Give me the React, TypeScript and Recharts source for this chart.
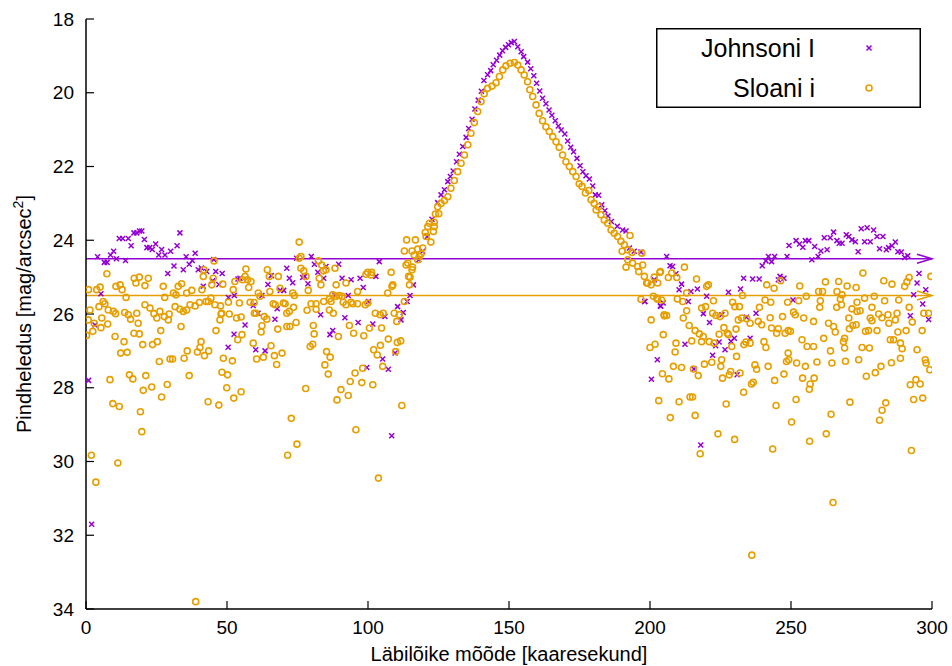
import { ScatterChart, Scatter, XAxis, YAxis, ReferenceLine, Legend } from "recharts"

const purple = "#9400d3"
const orange = "#e69f00"
const font = "'Liberation Sans', Arial, sans-serif"

const xTicks = [0, 50, 100, 150, 200, 250, 300]
const yTicks = [18, 20, 22, 24, 26, 28, 30, 32, 34]

// mean sky levels (arrows)
const johnsonSky = 24.5
const sloanSky = 25.5

// Johnsoni I  [x, mag]
const johnsonLeft = [
  [0.9, 27.8], [2.0, 31.7], [3.2, 26.3], [4.1, 24.45], [5.3, 25.45], [6.5, 24.6], [7.5, 24.6], [8.7, 24.4],
  [9.8, 24.3], [10.8, 24.5], [11.8, 23.95], [13.0, 23.95], [14.0, 24.55], [15.0, 23.95], [16.0, 24.15],
  [17.0, 23.8], [18.0, 23.8], [19.0, 23.75], [19.8, 23.75], [20.7, 23.98], [21.6, 24.2], [22.6, 24.2],
  [23.5, 24.25], [24.7, 24.1], [25.8, 24.4], [26.8, 24.25], [28.0, 24.4], [29.0, 24.9], [30.0, 24.3],
  [31.2, 24.7], [32.3, 24.15], [33.3, 23.8], [34.5, 24.8], [35.5, 24.45], [36.6, 24.65], [37.7, 24.55],
  [38.7, 24.35], [39.8, 24.8], [40.9, 24.75], [41.6, 25.25], [42.8, 24.85], [44.9, 25.1], [45.3, 24.52],
  [46.0, 24.85], [47.1, 25.2], [48.3, 24.9], [50.4, 26.9], [50.5, 25.55], [52.5, 26.55], [52.6, 25.5],
  [53.9, 25.05], [54.6, 25.03], [56.4, 26.3], [59.3, 25.77], [60.2, 26.97], [61.0, 25.98], [62.4, 25.5],
  [63.5, 27.0], [64.5, 25.2], [65.7, 24.96], [67.0, 26.14], [67.8, 25.86], [68.9, 25.36], [70.1, 25.36],
  [71.2, 24.76], [72.1, 25.03], [73.3, 25.15], [74.7, 24.49], [76.8, 25.01], [77.5, 24.98], [78.7, 25.18],
  [79.9, 24.44], [81.0, 24.65], [82.2, 24.87], [83.2, 26.02], [84.3, 25.03], [85.1, 24.71], [86.5, 26.56],
  [87.5, 26.45], [88.3, 25.5], [89.6, 24.65], [90.8, 25.03], [91.8, 26.1], [93.0, 25.5], [94.0, 25.07],
  [96.5, 26.23], [97.2, 25.03], [98.3, 25.28], [99.6, 27.45], [100.2, 25.66], [101.7, 26.27], [102.8, 24.98],
  [104.0, 24.58], [105.2, 27.22], [106.0, 26.07], [107.2, 27.5], [108.4, 29.3], [109.6, 27.06],
]

const johnsonPeak = [
  [110.5, 25.8], [111.7, 26.16], [112.5, 25.96], [113.9, 25.66], [114.9, 25.5], [116.1, 25.21], [118.0, 24.53],
  [119.4, 24.3], [121.0, 23.9], [122.7, 23.43], [124.7, 22.98], [125.9, 22.77], [127.1, 22.63], [128.3, 22.41],
  [129.2, 22.27], [130.2, 22.12], [131.4, 21.87], [132.4, 21.67], [133.6, 21.46], [134.8, 21.21], [135.7, 20.97],
  [136.9, 20.72], [137.9, 20.44], [139.1, 20.2], [140.2, 19.96], [141.1, 19.67], [142.4, 19.51], [143.5, 19.4],
  [144.4, 19.24], [145.6, 19.12], [146.7, 18.98], [147.7, 18.86], [148.8, 18.77], [149.8, 18.7], [150.8, 18.64],
  [151.9, 18.61], [153.1, 18.75], [154.3, 18.89], [155.2, 19.02], [156.6, 19.17], [157.7, 19.35], [158.8, 19.54],
  [159.8, 19.74], [160.9, 19.95], [161.9, 20.15], [163.1, 20.3], [164.2, 20.47], [165.2, 20.61], [166.4, 20.76],
  [167.5, 20.9], [168.5, 21.01], [169.8, 21.12], [170.8, 21.31], [171.9, 21.48], [172.9, 21.6], [174.1, 21.78],
  [175.2, 21.98], [176.2, 22.14], [177.3, 22.25], [178.5, 22.34], [179.7, 22.53], [180.6, 22.77], [181.8, 22.78],
  [182.9, 23.04], [184.0, 23.2], [185.1, 23.34], [186.3, 23.49], [188.4, 23.62], [190.3, 23.72], [191.5, 23.75],
  [192.7, 24.21], [194.4, 24.3], [196.8, 24.32], [198.2, 25.66], [201.5, 25.07], [203.7, 25.78],
]

const johnsonRight = [
  [198.1, 25.66], [200.5, 27.77], [202.6, 27.24], [203.8, 25.79], [204.7, 25.7], [205.9, 24.44], [207.1, 24.69],
  [208.0, 24.71], [209.2, 24.91], [210.3, 25.34], [211.2, 25.19], [212.4, 26.82], [213.6, 25.66], [214.5, 25.39],
  [215.6, 27.49], [216.8, 25.32], [218.0, 29.55], [218.9, 25.99], [220.1, 25.52], [221.1, 26.23], [222.2, 27.12],
  [223.3, 26.86], [224.5, 26.76], [225.5, 26.02], [226.6, 26.97], [227.8, 25.41], [228.7, 26.74], [229.9, 26.66],
  [230.9, 27.65], [232.1, 25.32], [233.2, 25.03], [234.2, 26.09], [235.5, 26.66], [236.4, 25.05], [237.6, 25.98],
  [238.7, 25.05], [239.8, 24.69], [241.1, 24.56], [242.0, 24.44], [243.1, 24.58], [244.2, 24.44], [245.5, 25.07],
  [246.1, 24.98], [247.5, 25.03], [248.6, 24.44], [249.3, 24.14], [250.7, 25.62], [251.8, 24.01], [253.0, 24.1],
  [254.2, 24.19], [255.1, 24.01], [256.3, 24.01], [257.4, 24.53], [258.4, 24.17], [259.6, 24.44], [260.6, 24.29],
  [261.8, 23.93], [262.8, 24.26], [263.9, 23.93], [265.1, 23.78], [266.3, 24.01], [267.1, 24.08], [268.1, 24.08],
  [269.6, 23.85], [270.5, 23.9], [271.6, 23.99], [272.8, 24.04], [273.8, 24.31], [274.9, 23.69], [276.1, 24.04],
  [277.0, 23.66], [278.1, 24.04], [279.3, 23.72], [280.5, 23.9], [281.4, 24.23], [282.6, 23.9], [283.8, 24.26],
  [284.6, 24.2], [285.8, 24.15], [287.0, 24.05], [287.9, 24.31], [289.1, 24.32], [290.3, 24.47], [291.4, 24.42],
  [292.3, 26.05], [293.5, 25.48], [294.7, 25.16], [295.4, 24.9], [296.7, 25.73], [297.8, 25.34], [298.8, 26.15],
]

// Sloani i  [x, mag]
const sloanLeft = [
  [0.2, 26.58], [0.8, 26.16], [0.9, 25.34], [1.4, 25.89], [1.9, 29.83], [2.4, 26.47], [2.9, 26.25], [3.5, 30.56],
  [3.8, 25.34], [4.6, 25.8], [5.0, 25.27], [5.3, 26.37], [5.6, 26.11], [6.1, 25.66], [6.7, 25.72], [7.4, 24.91],
  [7.7, 26.27], [7.9, 25.89], [8.5, 27.78], [9.5, 28.43], [9.7, 25.93], [10.3, 26.61], [10.5, 25.99], [10.6, 25.25],
  [11.3, 30.04], [11.8, 28.51], [12.1, 25.21], [12.3, 27.06], [12.8, 25.34], [13.5, 26.75], [13.7, 25.96],
  [14.2, 25.55], [14.6, 27.04], [15.0, 26.02], [15.4, 27.65], [15.8, 26.14], [16.6, 27.76], [17.0, 26.52],
  [17.1, 25.03], [17.7, 25.16], [18.0, 25.98], [18.5, 26.25], [18.9, 25.0], [18.9, 26.54], [19.3, 28.65],
  [19.8, 29.19], [20.1, 26.83], [20.3, 28.07], [20.9, 25.23], [20.9, 25.75], [21.2, 27.67], [22.1, 25.03],
  [22.7, 25.84], [23.3, 27.98], [23.6, 26.83], [24.1, 25.99], [25.1, 26.11], [25.3, 26.75], [26.0, 27.29],
  [26.2, 25.93], [26.5, 26.45], [26.8, 28.25], [27.4, 25.25], [27.8, 26.07], [27.9, 25.55], [28.8, 27.91],
  [29.2, 26.16], [29.5, 26.0], [29.8, 27.22], [30.7, 27.22], [31.0, 25.43], [31.6, 25.8], [31.9, 25.48],
  [32.7, 25.25], [33.3, 25.87], [33.7, 26.34], [33.9, 25.18], [34.5, 25.93], [34.8, 27.2], [35.7, 25.89],
  [35.7, 25.43], [35.9, 27.0], [36.6, 27.67], [36.9, 25.75], [37.5, 25.36], [38.7, 25.78], [38.9, 33.8],
  [39.5, 27.03], [40.2, 25.69], [40.4, 26.91], [40.8, 26.75], [41.1, 25.34], [41.6, 24.98], [41.8, 24.8],
  [42.0, 27.13], [42.6, 25.66], [43.3, 28.38], [43.4, 25.66], [43.5, 27.0], [44.3, 25.57], [44.6, 25.21],
  [45.1, 25.03], [45.4, 24.56], [45.7, 25.75], [46.1, 26.45], [47.1, 28.47], [47.5, 26.16], [47.7, 25.78],
  [47.9, 26.0], [48.1, 25.98], [48.2, 27.58], [48.5, 25.19], [48.7, 27.2], [49.9, 28.0], [50.2, 27.65],
  [50.5, 25.68], [50.8, 26.0], [51.9, 27.27], [52.2, 25.34], [52.4, 28.28], [52.8, 25.12], [53.4, 26.11],
  [53.8, 26.7], [54.4, 25.7], [55.0, 28.11], [55.0, 26.08], [55.3, 26.56], [55.6, 25.07], [56.4, 24.98],
  [56.7, 24.78], [57.3, 25.07], [57.7, 25.28], [58.2, 25.68], [58.5, 25.12], [59.3, 26.79], [59.6, 25.69],
  [59.7, 25.98], [60.3, 25.98], [60.5, 27.22], [61.1, 25.43], [61.7, 25.52], [62.1, 26.49], [62.4, 26.32],
  [62.9, 27.17], [63.2, 26.07], [64.1, 26.14], [64.3, 24.8], [65.0, 24.98], [65.2, 25.39], [65.6, 26.86],
  [66.4, 25.72], [66.8, 27.13], [67.1, 25.75], [67.6, 27.37], [68.0, 26.41], [68.2, 24.98], [68.8, 25.3],
  [69.5, 27.06], [70.0, 25.7], [70.6, 25.72], [71.2, 25.98], [71.2, 26.34], [71.5, 29.83], [72.1, 25.93],
  [72.3, 26.34], [72.8, 28.83], [73.3, 25.43], [73.6, 25.82], [73.9, 25.5], [74.5, 26.23], [74.8, 29.53],
  [75.6, 24.05], [75.6, 24.49], [76.2, 24.44], [76.2, 24.76], [77.2, 24.83], [77.9, 28.02], [78.0, 24.98],
  [78.4, 25.9], [78.8, 25.36], [79.5, 26.88], [79.8, 25.72], [80.4, 26.82], [80.6, 26.31], [80.9, 26.54],
  [81.6, 25.72], [81.6, 25.87], [82.4, 24.56], [82.7, 25.03], [83.3, 25.21], [83.6, 24.67], [84.2, 24.83],
  [84.3, 25.66], [84.7, 27.38], [85.1, 24.8], [85.3, 27.02], [85.9, 27.63], [86.3, 25.59], [86.3, 25.89],
  [86.6, 27.17], [86.9, 25.66], [87.5, 25.48], [87.7, 25.98], [88.3, 24.76], [88.7, 25.21], [88.7, 25.52],
  [89.0, 28.33], [89.5, 26.61], [89.8, 25.5], [90.4, 28.05], [90.8, 25.52], [91.2, 25.68], [92.2, 25.16],
  [92.2, 25.75], [93.0, 28.21], [93.4, 26.31], [93.7, 27.83], [94.0, 25.68], [94.6, 25.72], [94.9, 26.52],
  [95.4, 27.6], [95.7, 29.14], [96.3, 25.39], [96.3, 25.72], [97.8, 27.86], [98.1, 27.47], [98.5, 26.59],
  [99.0, 25.75], [99.3, 24.92], [99.9, 24.87], [99.9, 25.7], [100.5, 26.38], [101.1, 24.94], [101.3, 24.87],
  [101.7, 27.92], [102.0, 26.97], [102.6, 25.98], [103.3, 27.11], [103.7, 30.45], [104.3, 26.02], [104.4, 26.85],
  [104.8, 26.38], [105.2, 27.42], [105.4, 25.98], [107.0, 25.43], [107.2, 26.68], [108.2, 24.87], [108.5, 25.25],
  [108.8, 25.21], [109.3, 25.98], [109.8, 27.02], [110.2, 26.2], [110.4, 26.77], [111.1, 26.02], [111.6, 26.73],
  [112.0, 28.48],
]

const sloanPeak = [
  [112.9, 25.66], [112.9, 24.29], [113.5, 24.67], [113.7, 23.99], [114.1, 24.62], [114.4, 24.98], [114.7, 25.21],
  [114.9, 25.0], [115.6, 24.8], [115.6, 24.29], [115.8, 24.73], [116.4, 24.4], [116.8, 23.99], [117.6, 24.53],
  [117.6, 24.24], [118.2, 24.44], [118.8, 24.37], [119.4, 24.21], [120.3, 23.79], [120.6, 23.9], [121.2, 23.63],
  [121.8, 23.54], [122.3, 24.05], [123.2, 23.76], [123.5, 23.51], [123.5, 23.63], [123.9, 23.29], [124.7, 23.09],
  [125.1, 23.28], [125.9, 23.0], [127.1, 22.92], [128.3, 22.82], [129.4, 22.59], [130.6, 22.38], [131.8, 22.14],
  [133.0, 21.91], [134.2, 21.69], [135.4, 21.41], [136.5, 21.1], [137.7, 20.81], [138.9, 20.51], [140.1, 20.24],
  [141.2, 20.03], [142.4, 19.88], [144.0, 19.82], [145.4, 19.73], [146.6, 19.56], [147.8, 19.38], [148.9, 19.27],
  [150.4, 19.2], [151.9, 19.18], [153.1, 19.25], [154.3, 19.38], [155.4, 19.52], [156.6, 19.7], [157.4, 19.92],
  [158.4, 20.1], [159.6, 20.33], [160.7, 20.56], [161.9, 20.76], [163.1, 20.92], [164.3, 21.05], [165.5, 21.19],
  [166.7, 21.33], [167.8, 21.48], [169.0, 21.69], [170.2, 21.87], [171.4, 22.0], [172.6, 22.14], [173.8, 22.27],
  [174.9, 22.47], [175.9, 22.54], [177.1, 22.72], [178.3, 22.65], [179.1, 22.9], [180.2, 23.0], [180.9, 23.18],
  [181.8, 23.09], [182.6, 23.31], [183.8, 23.45], [185.0, 23.54], [186.2, 23.72], [187.3, 23.81], [188.5, 23.9],
  [189.7, 24.03], [190.1, 24.3], [190.9, 24.12], [191.5, 24.73], [192.1, 24.26], [192.1, 24.53], [192.9, 23.87],
  [193.6, 24.33], [193.8, 24.62], [195.6, 24.71], [196.0, 24.85], [196.8, 25.6], [197.1, 24.35], [197.4, 24.67],
  [198.0, 24.98], [198.8, 25.16], [199.2, 25.16], [200.4, 25.21], [200.4, 26.16], [201.2, 25.52], [201.5, 25.0],
  [202.7, 25.16], [202.7, 25.6], [203.7, 24.85], [205.1, 26.05],
]

const sloanRight = [
  [200.0, 26.91], [201.8, 26.82], [202.4, 25.57], [203.1, 28.35], [203.5, 24.87], [204.1, 25.62], [204.4, 27.62],
  [204.7, 26.56], [205.0, 26.02], [205.9, 26.04], [206.5, 25.01], [206.7, 27.76], [207.2, 28.81], [207.7, 24.89],
  [208.3, 27.42], [208.9, 27.03], [209.2, 26.79], [209.5, 25.01], [209.7, 25.59], [210.3, 28.38], [211.2, 27.45],
  [211.6, 25.66], [211.8, 26.11], [212.2, 24.73], [213.0, 25.43], [213.0, 25.91], [213.9, 26.31], [214.2, 28.25],
  [214.8, 26.73], [215.1, 28.25], [215.4, 27.49], [216.0, 26.45], [216.0, 28.75], [216.5, 25.05], [217.1, 27.67],
  [217.5, 26.54], [217.8, 29.79], [218.3, 25.84], [218.3, 26.75], [218.9, 26.61], [219.3, 27.36], [219.7, 25.8],
  [220.1, 25.25], [220.7, 25.21], [221.0, 26.75], [221.9, 27.31], [222.2, 25.98], [222.5, 25.64], [222.7, 26.79],
  [223.4, 26.04], [224.1, 29.25], [224.5, 26.55], [224.8, 26.07], [225.1, 27.42], [225.4, 27.24], [225.7, 27.74],
  [226.2, 26.37], [226.6, 25.98], [227.0, 28.44], [227.4, 26.52], [227.8, 26.56], [228.1, 27.65], [228.6, 27.56],
  [229.0, 26.88], [229.3, 25.68], [230.0, 29.4], [230.1, 25.8], [230.5, 26.41], [230.7, 27.15], [231.3, 26.16],
  [231.7, 25.8], [231.9, 27.6], [232.5, 26.11], [232.8, 25.5], [233.2, 28.12], [233.3, 26.83], [234.0, 26.76],
  [234.3, 26.13], [235.5, 26.25], [235.5, 26.79], [236.0, 27.9], [236.1, 32.54], [236.6, 27.85], [237.2, 27.38],
  [237.8, 27.5], [238.4, 26.2], [238.8, 25.82], [239.6, 26.29], [240.4, 26.75], [240.8, 25.62], [241.1, 26.91],
  [241.4, 25.21], [241.9, 27.42], [242.6, 26.1], [242.8, 25.68], [243.1, 26.38], [243.5, 29.66], [244.0, 25.3],
  [244.2, 27.8], [244.7, 28.48], [244.9, 26.52], [245.5, 26.4], [246.3, 25.1], [247.0, 26.07], [247.5, 27.63],
  [247.9, 26.52], [248.4, 27.29], [248.8, 25.68], [249.0, 26.45], [249.0, 27.06], [249.2, 27.24], [249.8, 26.47],
  [250.2, 28.93], [250.9, 25.95], [251.5, 26.02], [251.8, 28.32], [252.0, 27.33], [252.7, 25.64], [253.1, 25.24],
  [253.9, 26.7], [254.1, 27.74], [254.5, 26.11], [255.1, 27.42], [255.4, 25.52], [255.7, 26.88], [256.5, 28.04],
  [256.6, 29.45], [256.8, 27.9], [258.0, 26.2], [258.0, 26.88], [258.2, 27.74], [259.2, 27.3], [259.8, 25.39],
  [260.2, 25.82], [260.4, 25.64], [261.2, 25.39], [261.6, 26.66], [262.2, 25.13], [262.5, 29.25], [263.3, 26.25],
  [264.0, 27.0], [264.2, 28.72], [264.5, 27.33], [264.9, 31.11], [265.1, 26.34], [265.7, 26.49], [266.2, 25.82],
  [266.3, 25.39], [266.9, 25.12], [267.5, 25.59], [267.9, 25.75], [268.1, 25.48], [268.6, 26.75], [269.0, 26.66],
  [269.0, 26.92], [269.3, 27.28], [269.9, 25.24], [270.5, 26.11], [270.7, 26.4], [270.9, 28.39], [271.6, 25.86],
  [271.9, 26.31], [273.1, 25.28], [273.1, 26.29], [273.4, 25.93], [273.4, 25.68], [274.0, 27.24], [274.5, 25.91],
  [275.2, 26.91], [275.5, 24.89], [276.1, 25.57], [276.4, 26.47], [276.7, 27.69], [277.5, 26.45], [277.8, 26.92],
  [278.1, 26.11], [278.7, 25.82], [278.7, 26.18], [279.5, 25.52], [279.9, 27.59], [280.5, 26.45], [281.1, 26.0],
  [281.4, 28.88], [281.9, 27.42], [282.3, 26.1], [282.3, 28.61], [282.9, 25.1], [283.2, 25.64], [283.6, 28.41],
  [284.4, 26.02], [284.7, 26.25], [285.2, 26.7], [285.6, 27.32], [285.8, 25.19], [286.4, 26.7], [287.0, 26.16],
  [287.6, 25.98], [287.9, 26.49], [288.2, 25.62], [288.8, 27.2], [288.8, 26.79], [289.4, 26.94], [290.3, 25.25],
  [290.8, 26.45], [291.1, 25.13], [291.9, 25.01], [291.9, 25.82], [292.3, 27.92], [292.7, 29.7], [293.0, 26.22],
  [293.5, 28.32], [294.3, 27.78], [294.7, 26.97], [295.8, 27.9], [296.5, 26.45], [296.7, 28.28], [297.1, 25.98],
  [297.6, 27.24], [297.9, 27.33], [298.8, 25.98], [299.2, 27.51], [299.6, 24.98],
]

const toPoints = (rows: number[][]) => rows.map(([x, y]) => ({ x, y }))

const johnsonData = toPoints([...johnsonLeft, ...johnsonPeak, ...johnsonRight])
const sloanData = toPoints([...sloanLeft, ...sloanPeak, ...sloanRight])

const CrossMark = (props: any) => {
  const { cx, cy } = props
  if (cx == null || cy == null) return <g />
  const s = 2.5
  return (
    <path
      d={`M${cx - s},${cy - s}L${cx + s},${cy + s}M${cx - s},${cy + s}L${cx + s},${cy - s}`}
      stroke={purple}
      strokeWidth={1.5}
      fill="none"
    />
  )
}

const RingMark = (props: any) => {
  const { cx, cy } = props
  if (cx == null || cy == null) return <g />
  return <circle cx={cx} cy={cy} r={3} fill="none" stroke={orange} strokeWidth={1.6} />
}

// horizontal line with an open arrow head at the right end
const arrowShape = (color: string) => (props: any) => {
  const { x1, y1, x2, y2 } = props
  return (
    <g>
      <line x1={x1} y1={y1} x2={x2} y2={y2} stroke={color} strokeWidth={1.5} />
      <path d={`M${x2 - 15},${y2 - 4.5}L${x2},${y2}L${x2 - 15},${y2 + 4.5}`} stroke={color} strokeWidth={1.5} fill="none" />
    </g>
  )
}

const YTitle = (props: any) => {
  const { viewBox } = props
  const cy = viewBox.y + viewBox.height / 2
  const x = 31
  return (
    <text x={x} y={cy} transform={`rotate(-90, ${x}, ${cy})`} textAnchor="middle" fill="#000" fontSize={20} fontFamily={font}>
      Pindheledus [mag/arcsec
      <tspan dy={-8} fontSize={14}>2</tspan>
      <tspan dy={8}>]</tspan>
    </text>
  )
}

const LegendBox = () => (
  <svg width={265} height={80} style={{ display: "block" }}>
    <rect x={0.75} y={0.75} width={263.5} height={78.5} fill="#fff" stroke="#000" strokeWidth={1.5} />
    <text x={159} y={29} textAnchor="end" fontSize={25} fontFamily={font} fill="#000">
      Johnsoni I
    </text>
    <text x={159} y={69} textAnchor="end" fontSize={25} fontFamily={font} fill="#000">
      Sloani i
    </text>
    <CrossMark cx={213} cy={20} />
    <RingMark cx={213} cy={60} />
  </svg>
)

export default function App() {
  const tickStyle = { fill: "#000", fontSize: 19, fontFamily: font }
  return (
    <div style={{ position: "absolute", left: 0, top: 0, width: 952, height: 666, background: "#fff" }}>
      <ScatterChart width={952} height={666} margin={{ top: 19, right: 20, bottom: 0, left: 0 }}>
        <XAxis
          xAxisId={0}
          type="number"
          dataKey="x"
          domain={[0, 300]}
          ticks={xTicks}
          allowDataOverflow
          height={57}
          tickSize={-8}
          tickMargin={20}
          tick={tickStyle}
          axisLine={{ stroke: "#000", strokeWidth: 1.5 }}
          tickLine={{ stroke: "#000", strokeWidth: 1.2 }}
          label={{ value: "Läbilõike mõõde [kaaresekund]", position: "insideBottom", offset: 5, fill: "#000", fontSize: 20, fontFamily: font }}
        />
        <XAxis
          xAxisId="top"
          orientation="top"
          type="number"
          domain={[0, 300]}
          ticks={xTicks}
          allowDataOverflow
          height={0}
          tickSize={-8}
          tick={false}
          axisLine={{ stroke: "#000", strokeWidth: 1.5 }}
          tickLine={{ stroke: "#000", strokeWidth: 1.2 }}
        />
        <YAxis
          yAxisId={0}
          type="number"
          dataKey="y"
          domain={[18, 34]}
          ticks={yTicks}
          reversed
          allowDataOverflow
          width={86}
          tickSize={-8}
          tickMargin={20}
          tick={tickStyle}
          axisLine={{ stroke: "#000", strokeWidth: 1.5 }}
          tickLine={{ stroke: "#000", strokeWidth: 1.2 }}
          label={<YTitle />}
        />
        <YAxis
          yAxisId="right"
          orientation="right"
          type="number"
          domain={[18, 34]}
          ticks={yTicks}
          reversed
          allowDataOverflow
          width={0}
          tickSize={-8}
          tick={false}
          axisLine={{ stroke: "#000", strokeWidth: 1.5 }}
          tickLine={{ stroke: "#000", strokeWidth: 1.2 }}
        />
        <Legend
          layout="horizontal"
          verticalAlign="middle"
          align="center"
          wrapperStyle={{ top: 28, left: 656, width: 265, height: 80 }}
          content={() => <LegendBox />}
        />
        <Scatter name="Johnsoni I" data={johnsonData} shape={CrossMark} isAnimationActive={false} />
        <Scatter name="Sloani i" data={sloanData} shape={RingMark} isAnimationActive={false} />
        <ReferenceLine y={johnsonSky} shape={arrowShape(purple)} />
        <ReferenceLine y={sloanSky} shape={arrowShape(orange)} />
      </ScatterChart>
    </div>
  )
}
